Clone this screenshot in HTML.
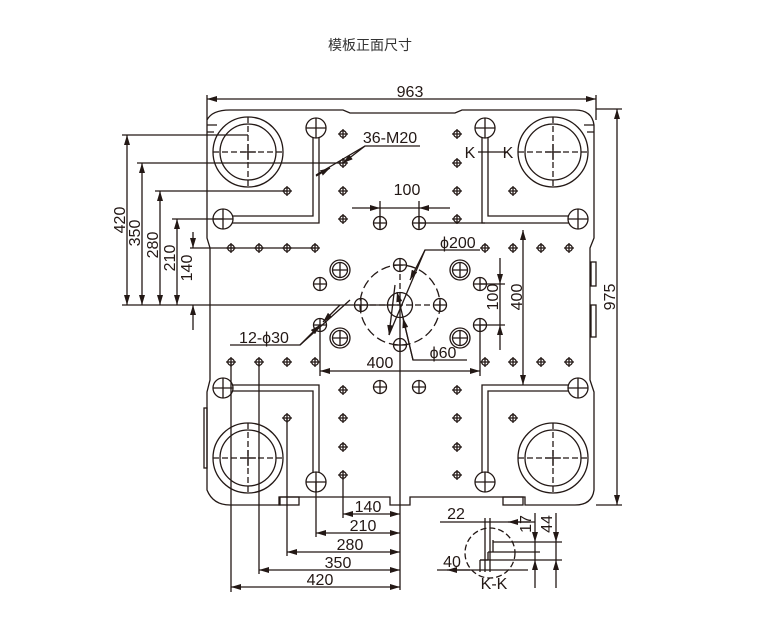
<!DOCTYPE html>
<html><head><meta charset="utf-8"><style>
html,body{margin:0;padding:0;background:#fff;}
svg{display:block;}
text{font-family:"Liberation Sans","Noto Sans CJK SC",sans-serif;fill:#231815;}
</style></head><body>
<svg width="758" height="643" viewBox="0 0 758 643" xmlns="http://www.w3.org/2000/svg">
<defs>
<marker id="a" viewBox="0 0 10 6" refX="10" refY="3" markerWidth="10" markerHeight="6" orient="auto-start-reverse" markerUnits="userSpaceOnUse"><path d="M0,0 L10,3 L0,6 z" fill="#231815"/></marker>
<g id="s"><circle r="3.3" fill="none"/><path d="M-5,0H5M0,-5V5"/></g>
<g id="r"><circle r="10" fill="none"/><circle r="7.5" fill="none"/><path d="M-7.5,0H7.5M0,-7.5V7.5"/></g>
<g id="t"><circle r="35" fill="none"/><circle r="28" fill="none"/><path d="M-35,0H35M0,-35V35" stroke-dasharray="6,3"/><path d="M-8,0H8M0,-8V8"/></g>
</defs>
<text x="370" y="50" font-size="14" text-anchor="middle" style="fill:#333">模板正面尺寸</text>
<g stroke="#231815" stroke-width="1.3" fill="none">
<path d="M207,120 Q212,110 230,110 L343,110 L350,113 L455,113 L462,110 L575,110 Q592,110 594,125 L594,238 L590,248 L590,380 L594,392 L594,490 Q592,505 575,505 L525,505 L525,497 L410,497 L410,505 L390,505 L390,497 L280,497 L280,505 L230,505 Q213,505 207,490 L207,392 L210,380 L210,248 L207,238 Z"/>
<path d="M207,125 H217 M207,132 H214 M594,125 H584 M594,132 H587"/>
<rect x="591" y="262" width="5" height="24"/><rect x="591" y="305" width="5" height="32"/>
<rect x="204" y="408" width="3" height="60"/>
<rect x="279" y="497" width="20" height="8"/><rect x="503" y="497" width="20" height="8"/>
<use href="#t" x="248" y="152"/><use href="#t" x="553" y="152"/><use href="#t" x="248" y="458"/><use href="#t" x="553" y="458"/>
<path d="M313,135 V216 H230 M319,135 V223 H230"/>
<path d="M488,135 V216 H571 M482,135 V223 H571"/>
<path d="M313,475 V391 H230 M319,475 V385 H230"/>
<path d="M488,475 V391 H571 M482,475 V385 H571"/>
<g fill="#fff"><circle cx="316" cy="128" r="10"/><circle cx="223" cy="219" r="10"/><circle cx="485" cy="128" r="10"/><circle cx="578" cy="219" r="10"/>
<circle cx="223" cy="388" r="10"/><circle cx="316" cy="482" r="10"/><circle cx="485" cy="482" r="10"/><circle cx="578" cy="388" r="10"/></g>
<path d="M306,128H326M316,118V138 M213,219H233M223,209V229 M475,128H495M485,118V138 M568,219H588M578,209V229 M213,388H233M223,378V398 M306,482H326M316,472V492 M475,482H495M485,472V492 M568,388H588M578,378V398"/>
<use href="#s" x="343" y="134"/><use href="#s" x="343" y="163"/><use href="#s" x="343" y="191"/><use href="#s" x="343" y="219"/>
<use href="#s" x="457" y="134"/><use href="#s" x="457" y="163"/><use href="#s" x="457" y="191"/><use href="#s" x="457" y="219"/>
<use href="#s" x="287" y="191"/><use href="#s" x="513" y="191"/>
<use href="#s" x="231" y="248"/><use href="#s" x="259" y="248"/><use href="#s" x="287" y="248"/><use href="#s" x="315" y="248"/>
<use href="#s" x="485" y="248"/><use href="#s" x="513" y="248"/><use href="#s" x="541" y="248"/><use href="#s" x="569" y="248"/>
<use href="#s" x="231" y="362"/><use href="#s" x="259" y="362"/><use href="#s" x="287" y="362"/><use href="#s" x="315" y="362"/>
<use href="#s" x="485" y="362"/><use href="#s" x="513" y="362"/><use href="#s" x="541" y="362"/><use href="#s" x="569" y="362"/>
<use href="#s" x="343" y="390"/><use href="#s" x="343" y="418"/><use href="#s" x="343" y="447"/><use href="#s" x="343" y="475"/>
<use href="#s" x="457" y="390"/><use href="#s" x="457" y="418"/><use href="#s" x="457" y="447"/><use href="#s" x="457" y="475"/>
<use href="#s" x="287" y="418"/><use href="#s" x="513" y="418"/>
<circle cx="380" cy="223" r="6.5"/><path d="M373.5,223H386.5M380,216.5V229.5"/>
<circle cx="419" cy="223" r="6.5"/><path d="M412.5,223H425.5M419,216.5V229.5"/>
<circle cx="380" cy="387" r="6.5"/><path d="M373.5,387H386.5M380,380.5V393.5"/>
<circle cx="419" cy="387" r="6.5"/><path d="M412.5,387H425.5M419,380.5V393.5"/>
<circle cx="320" cy="284" r="6.5"/><path d="M313.5,284H326.5M320,277.5V290.5"/>
<circle cx="320" cy="325" r="6.5"/><path d="M313.5,325H326.5M320,318.5V331.5"/>
<circle cx="480" cy="284" r="6.5"/><path d="M473.5,284H486.5M480,277.5V290.5"/>
<circle cx="480" cy="325" r="6.5"/><path d="M473.5,325H486.5M480,318.5V331.5"/>
<circle cx="400" cy="265" r="6.5"/><path d="M393.5,265H406.5M400,258.5V271.5"/>
<circle cx="400" cy="345" r="6.5"/><path d="M393.5,345H406.5M400,338.5V351.5"/>
<circle cx="361" cy="305" r="6.5"/><path d="M354.5,305H367.5M361,298.5V311.5"/>
<circle cx="440" cy="305" r="6.5"/><path d="M433.5,305H446.5M440,298.5V311.5"/>
<use href="#r" x="340" y="270"/><use href="#r" x="460" y="270"/><use href="#r" x="340" y="338"/><use href="#r" x="460" y="338"/>
<circle cx="400" cy="305" r="40" stroke-dasharray="9,4"/>
<circle cx="400" cy="305" r="12.5"/>
<path d="M370,305H430 M400,265V305" stroke-dasharray="6,3"/>
<path d="M400,305V590"/>
<path d="M207,95V120 M596,95V120"/>
<path d="M207,99H596" marker-start="url(#a)" marker-end="url(#a)"/>
<path d="M596,109H622 M596,505H622"/>
<path d="M617,109V505" marker-start="url(#a)" marker-end="url(#a)"/>
<path d="M122,135H248 M137,163H343 M155,191H287 M172,219H223 M190,248H315 M122,305H400"/>
<path d="M127,135V305" marker-start="url(#a)" marker-end="url(#a)"/>
<path d="M142,163V305" marker-start="url(#a)" marker-end="url(#a)"/>
<path d="M160,191V305" marker-start="url(#a)" marker-end="url(#a)"/>
<path d="M177,219V305" marker-start="url(#a)" marker-end="url(#a)"/>
<path d="M193,232V248" marker-end="url(#a)"/><path d="M193,330V305" marker-end="url(#a)"/>
<path d="M380,201V228 M419,201V228 M419,223H485"/>
<path d="M352,208H380" marker-end="url(#a)"/><path d="M450,208H419" marker-end="url(#a)"/><path d="M380,208H419"/>
<path d="M420,146H365L316,175" /><path d="M365,146L343,163" marker-end="url(#a)"/><path d="M330,168L316,176" marker-start="url(#a)"/>
<path d="M478,152H508"/>
<path d="M523,230V385" marker-start="url(#a)" marker-end="url(#a)"/>
<path d="M480,284H505 M480,325H505"/>
<path d="M500,258V284" marker-end="url(#a)"/><path d="M500,350V325" marker-end="url(#a)"/><path d="M500,284V325"/>
<path d="M480,250H425L410,280" marker-end="url(#a)"/>
<path d="M425,250L389,335" />
<path d="M395,285L389,335" marker-end="url(#a)"/>
<path d="M467,360H413L403,318" marker-end="url(#a)"/>
<path d="M413,360L397,292" marker-end="url(#a)"/>
<path d="M230,345H300L350,300"/><path d="M300,345L320,325" marker-end="url(#a)"/><path d="M340,305L323,322" marker-end="url(#a)"/>
<path d="M320,325V376 M480,325V376"/>
<path d="M320,371H480" marker-start="url(#a)" marker-end="url(#a)"/>
<path d="M343,475V518 M316,482V537 M287,418V556 M259,362V574 M231,362V592"/>
<path d="M343,514H400" marker-start="url(#a)" marker-end="url(#a)"/>
<path d="M316,533H400" marker-start="url(#a)" marker-end="url(#a)"/>
<path d="M287,552H400" marker-start="url(#a)" marker-end="url(#a)"/>
<path d="M259,570H400" marker-start="url(#a)" marker-end="url(#a)"/>
<path d="M231,587H400" marker-start="url(#a)" marker-end="url(#a)"/>
<circle cx="490" cy="553" r="25" stroke-dasharray="6,3"/>
<path d="M440,522H535" /><path d="M530,522H508" marker-end="url(#a)"/>
<path d="M485,518V572 M490,518V572 M493,540V552 M488,552H493 M480,560V572 M480,560H488 M488,552V560"/>
<path d="M493,542H562 M493,552H540 M480,560H562 M437,570H528"/>
<path d="M447,570H470" marker-start="url(#a)"/>
<path d="M535,513V542" marker-end="url(#a)"/><path d="M535,588V560" marker-end="url(#a)"/><path d="M535,542V560"/>
<path d="M556,513V542" marker-end="url(#a)"/><path d="M556,588V560" marker-end="url(#a)"/><path d="M556,542V560"/>
</g>
<g font-size="16">
<text x="410" y="97" text-anchor="middle">963</text>
<text x="0" y="0" text-anchor="middle" transform="translate(615,297) rotate(-90)">975</text>
<text x="0" y="0" text-anchor="middle" transform="translate(125,220) rotate(-90)">420</text>
<text x="0" y="0" text-anchor="middle" transform="translate(140,233) rotate(-90)">350</text>
<text x="0" y="0" text-anchor="middle" transform="translate(158,245) rotate(-90)">280</text>
<text x="0" y="0" text-anchor="middle" transform="translate(175,258) rotate(-90)">210</text>
<text x="0" y="0" text-anchor="middle" transform="translate(192,268) rotate(-90)">140</text>
<text x="390" y="143" text-anchor="middle">36-M20</text>
<text x="470" y="158" text-anchor="middle">K</text>
<text x="508" y="158" text-anchor="middle">K</text>
<text x="407" y="195" text-anchor="middle">100</text>
<text x="440" y="248">ϕ200</text>
<text x="0" y="0" text-anchor="middle" transform="translate(498,297) rotate(-90)">100</text>
<text x="0" y="0" text-anchor="middle" transform="translate(522,297) rotate(-90)">400</text>
<text x="264" y="343" text-anchor="middle">12-ϕ30</text>
<text x="443" y="358" text-anchor="middle">ϕ60</text>
<text x="380" y="368" text-anchor="middle">400</text>
<text x="368" y="512" text-anchor="middle">140</text>
<text x="363" y="531" text-anchor="middle">210</text>
<text x="350" y="550" text-anchor="middle">280</text>
<text x="338" y="568" text-anchor="middle">350</text>
<text x="320" y="585" text-anchor="middle">420</text>
<text x="456" y="519" text-anchor="middle">22</text>
<text x="452" y="567" text-anchor="middle">40</text>
<text x="494" y="589" text-anchor="middle">K-K</text>
<text x="0" y="0" text-anchor="middle" transform="translate(531,524) rotate(-90)">17</text>
<text x="0" y="0" text-anchor="middle" transform="translate(552,524) rotate(-90)">44</text>
</g>
</svg>
</body></html>
